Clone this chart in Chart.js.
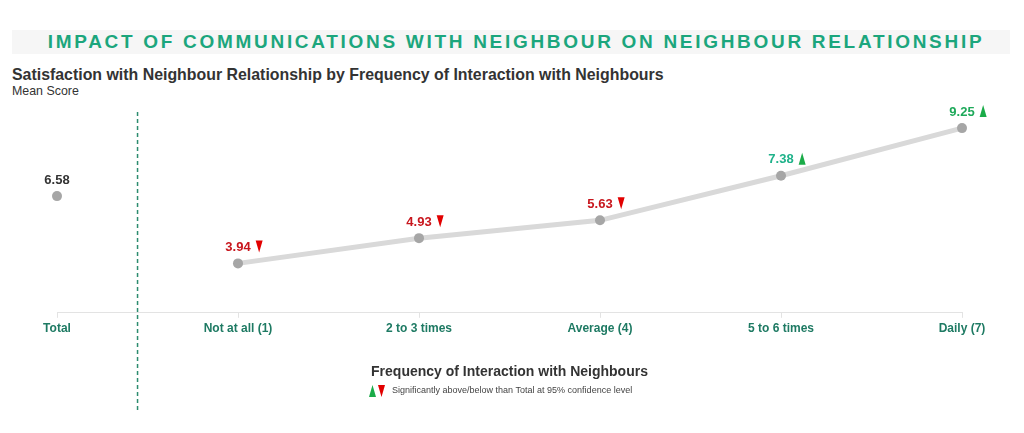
<!DOCTYPE html>
<html lang="en">
<meta charset="utf-8" />
<title>Impact of communications with neighbour</title>
<script src="https://cdn.jsdelivr.net/npm/chart.js@4.4.1"></script>

<style>
*{box-sizing:border-box;font-family:"Liberation Sans",Arial,sans-serif}
body{margin:0;background:#fff;width:1024px;height:433px;position:relative;overflow:hidden}
#banner{position:absolute;left:12px;top:30px;width:998px;height:24px;background:#f6f6f6;
  color:#1ca67d;font-weight:700;font-size:19px;line-height:24px;letter-spacing:2.7px;text-align:center;padding-left:10px}
#sub{position:absolute;left:12px;top:66px;color:#333;font-weight:700;font-size:15.9px;letter-spacing:0}
#unit{position:absolute;left:12px;top:84px;color:#333;font-size:12.4px}
canvas{position:absolute;left:0;top:0}
</style>

<body>
<div id="banner">IMPACT OF COMMUNICATIONS WITH NEIGHBOUR ON NEIGHBOUR RELATIONSHIP</div>
<div id="sub">Satisfaction with Neighbour Relationship by Frequency of Interaction with Neighbours</div>
<div id="unit">Mean Score</div>
<canvas id="chart" width="1024" height="433"></canvas>

<script>
/*── data ──*/
const categories      = ['Total','Not at all (1)','2 to 3 times','Average (4)','5 to 6 times','Daily (7)'];
const totalScore      = [6.58, null, null, null, null, null];
const frequencyScores = [null, 3.94, 4.93, 5.63, 7.38, 9.25];
const significance    = [0, -1, -1, -1, 1, 1];   // 1 above, -1 below total
const yMin = 2, yMax = 10;

/* label colours per category */
const labelColours = ['#333333','#c8161d','#c8161d','#c8161d','#1fb28a','#1ea95a'];
const UP = '#1aab48', DOWN = '#e20000';

function tri(ctx, x, y, up, colour){
  // x = left edge, y = vertical centre
  ctx.fillStyle = colour;
  ctx.beginPath();
  if (up){ ctx.moveTo(x, y+6); ctx.lineTo(x+7, y+6); ctx.lineTo(x+3.5, y-6); }
  else   { ctx.moveTo(x, y-6); ctx.lineTo(x+7, y-6); ctx.lineTo(x+3.5, y+6); }
  ctx.closePath(); ctx.fill();
}

/* value labels + arrows, divider line, significance note */
const extras = {
  id:'extras',
  afterDatasetsDraw(chart){
    const {ctx, scales:{x, y}} = chart;
    ctx.save();
    ctx.font = 'bold 13px "Liberation Sans", Arial, sans-serif';
    ctx.textAlign = 'center'; ctx.textBaseline = 'middle';
    categories.forEach((c, i) => {
      const v = i === 0 ? totalScore[i] : frequencyScores[i];
      if (v == null) return;
      const px = x.getPixelForValue(i), py = y.getPixelForValue(v);
      const txt = v.toFixed(2);
      ctx.fillStyle = labelColours[i];
      ctx.fillText(txt, px, py - 16);
      const w = ctx.measureText(txt).width;
      if (significance[i] !== 0)
        tri(ctx, px + w/2 + 5, py - 17, significance[i] > 0, significance[i] > 0 ? UP : DOWN);
    });

    // dashed divider between Total and the rest
    const dx = x.getPixelForValue(0) + (x.getPixelForValue(1) - x.getPixelForValue(0)) * 0.445;
    ctx.strokeStyle = '#2c8c6f'; ctx.lineWidth = 1.5; ctx.setLineDash([4,3]);
    ctx.beginPath(); ctx.moveTo(dx, 112); ctx.lineTo(dx, 410); ctx.stroke();
    ctx.setLineDash([]);

    // significance note
    tri(ctx, 369, 391, true, UP);
    tri(ctx, 378, 391, false, DOWN);
    ctx.font = '9px "Liberation Sans", Arial, sans-serif';
    ctx.fillStyle = '#444'; ctx.textAlign = 'left';
    ctx.fillText('Significantly above/below than Total at 95% confidence level', 392, 391);
    ctx.restore();
  }
};

new Chart(document.getElementById('chart'), {
  type:'line',
  data:{
    labels:categories,
    datasets:[
      { data:totalScore, borderColor:'#d9d9d9', borderWidth:5, pointRadius:5,
        pointBackgroundColor:'#a6a6a6', pointBorderWidth:0 },
      { data:frequencyScores, borderColor:'#d9d9d9', borderWidth:5, pointRadius:5,
        pointBackgroundColor:'#a6a6a6', pointBorderWidth:0, tension:0 }
    ]
  },
  options:{
    responsive:false, animation:false, devicePixelRatio:1,
    layout:{ padding:{ left:57, right:62, top:109, bottom:52 } },
    plugins:{ legend:{display:false}, tooltip:{enabled:false} },
    scales:{
      y:{ display:false, min:yMin, max:yMax },
      x:{
        offset:false,
        grid:{ drawOnChartArea:false, drawTicks:true, tickLength:5, color:'#e3e3e3' },
        border:{ color:'#e3e3e3' },
        ticks:{ color:'#1e7a63', font:{ weight:'bold', size:12 }, padding:4, maxRotation:0 },
        title:{ display:true, text:'Frequency of Interaction with Neighbours', color:'#333',
                font:{ weight:'bold', size:14 }, padding:{ top:24, bottom:0 } }
      }
    }
  },
  plugins:[extras]
});
</script>
</body>
</html>
